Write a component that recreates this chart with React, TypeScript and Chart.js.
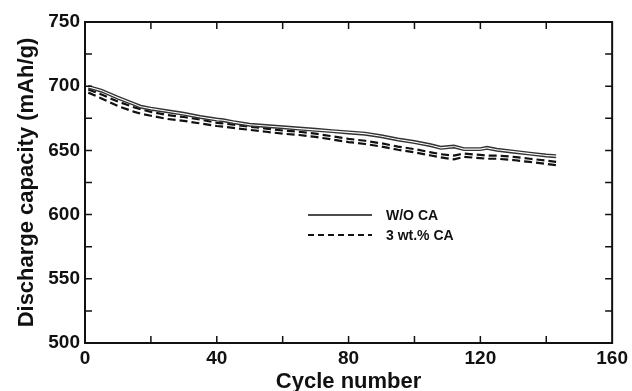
import React, { useEffect, useRef } from "react";
import { Chart, registerables } from "chart.js";

Chart.register(...registerables);

const cycles = [1, 5, 10, 15, 17, 20, 25, 30, 35, 40, 42, 45, 50, 55, 60, 65, 70, 75, 80, 85, 90, 95, 100, 105, 108, 112, 115, 120, 122, 125, 130, 135, 140, 143];

const woCaCellA = [700.5, 697.5, 692, 687, 685, 683.5, 681.5, 679.5, 677, 675, 674.5, 673, 671, 670, 669, 668, 667, 666, 665, 664, 662, 659.5, 657.5, 655, 653, 654, 652, 652, 653, 651.5, 650, 648.5, 647, 646.5];
const woCaCellB = [698.5, 695.5, 690, 685, 683, 681.5, 679.5, 677.5, 675, 673, 672.5, 671, 669, 668, 667, 666, 665, 664, 663, 662, 660, 657.5, 655.5, 653, 651, 652, 650, 650, 651, 649.5, 648, 646.5, 645, 644.5];
const caCellA = [697.5, 693.5, 688, 683.5, 682, 680, 677.5, 676, 674, 671.5, 671, 670, 668.5, 667, 665.5, 664.5, 663, 661, 659, 657.5, 655.5, 653, 651, 648.5, 647, 646, 647.5, 646.5, 646, 646, 645, 643.5, 642, 641];
const caCellB = [695, 690.5, 684.5, 680, 678.5, 677, 674.5, 673, 671, 669, 668.5, 667.5, 666, 664.5, 663, 662, 660.5, 658.5, 656.5, 655, 653, 650.5, 648.5, 646, 644.5, 643, 645, 644, 643.5, 643.5, 642.5, 641, 639.5, 638.5];

const legendLabels = ["W/O CA", "3 wt.% CA"];
const xTitle = "Cycle number";
const yTitle = "Discharge capacity (mAh/g)";

const FONT = "'Liberation Sans', Arial, sans-serif";
const INK = "#111";

const toPoints = (ys: number[]) => cycles.map((c, i) => ({ x: c, y: ys[i] }));

const framePlugin = {
  id: "frameTicks",
  afterDraw(chart: any) {
    const { ctx, chartArea } = chart;
    const { left, right, top, bottom } = chartArea;
    const xs = chart.scales.x;
    const ys = chart.scales.y;
    const tl = 7;
    ctx.save();
    ctx.strokeStyle = INK;
    ctx.lineWidth = 2;
    ctx.strokeRect(left, top, right - left, bottom - top);
    ctx.lineWidth = 1.5;
    ctx.beginPath();
    for (let v = 20; v < 160; v += 20) {
      const px = xs.getPixelForValue(v);
      ctx.moveTo(px, bottom);
      ctx.lineTo(px, bottom - tl);
      ctx.moveTo(px, top);
      ctx.lineTo(px, top + tl);
    }
    for (let v = 525; v < 750; v += 25) {
      const py = ys.getPixelForValue(v);
      ctx.moveTo(left, py);
      ctx.lineTo(left + tl, py);
      ctx.moveTo(right, py);
      ctx.lineTo(right - tl, py);
    }
    ctx.stroke();

    // legend
    const lx0 = 308;
    const lx1 = 372;
    const tx = 386;
    const rows = [215, 235];
    ctx.font = `bold 14px ${FONT}`;
    ctx.fillStyle = INK;
    ctx.textBaseline = "middle";
    ctx.textAlign = "left";
    rows.forEach((ry, i) => {
      ctx.beginPath();
      ctx.lineWidth = i === 0 ? 1.6 : 1.8;
      ctx.setLineDash(i === 0 ? [] : [6, 4]);
      ctx.moveTo(lx0, ry);
      ctx.lineTo(lx1, ry);
      ctx.stroke();
      ctx.setLineDash([]);
      ctx.fillText(legendLabels[i], tx, ry + 1);
    });
    ctx.restore();
  },
};

export default function App() {
  const ref = useRef<HTMLCanvasElement | null>(null);

  useEffect(() => {
    if (!ref.current) return;
    const solid = { borderColor: "#333", borderWidth: 1.4, pointRadius: 0, tension: 0, fill: false };
    const dashed = { borderColor: INK, borderWidth: 2.2, borderDash: [8, 4], pointRadius: 0, tension: 0, fill: false };
    const chart = new Chart(ref.current, {
      type: "line",
      data: {
        datasets: [
          { label: legendLabels[0], data: toPoints(woCaCellA), ...solid },
          { label: legendLabels[0] + " (2)", data: toPoints(woCaCellB), ...solid },
          { label: legendLabels[1], data: toPoints(caCellA), ...dashed },
          { label: legendLabels[1] + " (2)", data: toPoints(caCellB), ...dashed },
        ],
      },
      options: {
        responsive: false,
        animation: false,
        layout: { padding: { top: 22, right: 17, left: 0, bottom: 0 } },
        plugins: { legend: { display: false }, tooltip: { enabled: false } },
        scales: {
          x: {
            type: "linear",
            min: 0,
            max: 160,
            grid: { display: false, drawTicks: false },
            border: { display: false },
            ticks: {
              stepSize: 20,
              padding: 4,
              color: INK,
              font: { family: FONT, size: 19, weight: "bold" },
              maxRotation: 0,
              callback: (v: any) => (Number(v) % 40 === 0 ? String(v) : ""),
            },
            title: {
              display: true,
              text: xTitle,
              color: INK,
              font: { family: FONT, size: 22, weight: "bold" },
              padding: { top: 0, bottom: -4 },
            },
            afterFit: (s: any) => {
              s.height = 48;
            },
          },
          y: {
            type: "linear",
            min: 500,
            max: 750,
            grid: { display: false, drawTicks: false },
            border: { display: false },
            ticks: {
              stepSize: 25,
              padding: 5,
              color: INK,
              font: { family: FONT, size: 19, weight: "bold" },
              callback: (v: any) => (Number(v) % 50 === 0 ? String(v) : ""),
            },
            title: {
              display: true,
              text: yTitle,
              color: INK,
              font: { family: FONT, size: 22, weight: "bold" },
              padding: { top: 14, bottom: 0 },
            },
            afterFit: (s: any) => {
              s.width = 85;
            },
          },
        },
      },
      plugins: [framePlugin],
    });
    return () => chart.destroy();
  }, []);

  return (
    <div style={{ position: "fixed", left: 0, top: 0, width: 632, height: 391, background: "#fff" }}>
      <canvas ref={ref} width={632} height={391} />
    </div>
  );
}
